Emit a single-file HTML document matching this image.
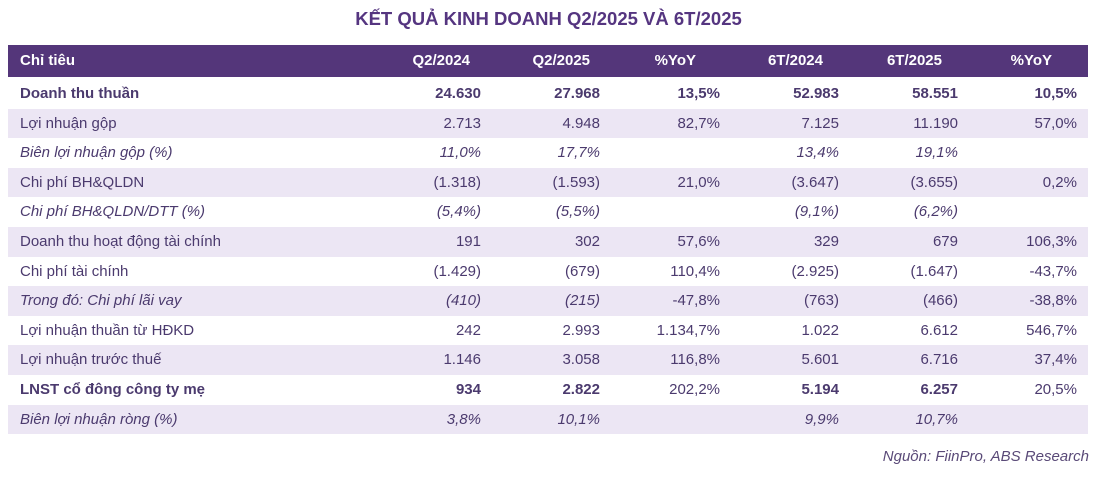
<!DOCTYPE html>
<html><head><meta charset="utf-8"><style>
body{margin:0;width:1097px;height:477px;background:#fff;font-family:"Liberation Sans","DejaVu Sans",sans-serif;color:#4b3a6e;position:relative;overflow:hidden}
.t{position:absolute;top:8px;left:0;width:1097px;text-align:center;font-weight:bold;font-size:18.5px;color:#553580}
.h{position:absolute;left:8px;width:1080px;top:45px;height:32px;background:#54367a;color:#fff;font-weight:bold;font-size:15px}
.r{position:absolute;left:8px;width:1080px;height:29.6px;font-size:15px}
.r.a{background:#ece6f4}
span{position:absolute;line-height:29.6px;white-space:nowrap}
.h span{line-height:32px}
.l{left:12px}
.b{font-weight:bold}.i{font-style:italic}
.src{position:absolute;right:8px;top:448px;font-style:italic;font-size:15px;color:#5a4a78}
</style></head><body>
<div class="t">KẾT QUẢ KINH DOANH Q2/2025 VÀ 6T/2025</div>
<div class="h"><span class="l">Chỉ tiêu</span><span style="right:618px">Q2/2024</span><span style="right:498px">Q2/2025</span><span style="right:392px">%YoY</span><span style="right:265px">6T/2024</span><span style="right:146px">6T/2025</span><span style="right:36px">%YoY</span></div>
<div id="rows"></div>
<div class="src">Nguồn: FiinPro, ABS Research</div>
<script>
var d=[
["Doanh thu thuần","24.630","27.968","13,5%","52.983","58.551","10,5%","b"],
["Lợi nhuận gộp","2.713","4.948","82,7%","7.125","11.190","57,0%",""],
["Biên lợi nhuận gộp (%)","11,0%","17,7%","","13,4%","19,1%","","i"],
["Chi phí BH&QLDN","(1.318)","(1.593)","21,0%","(3.647)","(3.655)","0,2%",""],
["Chi phí BH&QLDN/DTT (%)","(5,4%)","(5,5%)","","(9,1%)","(6,2%)","","i"],
["Doanh thu hoạt động tài chính","191","302","57,6%","329","679","106,3%",""],
["Chi phí tài chính","(1.429)","(679)","110,4%","(2.925)","(1.647)","-43,7%",""],
["Trong đó: Chi phí lãi vay","(410)","(215)","-47,8%","(763)","(466)","-38,8%","i2"],
["Lợi nhuận thuần từ HĐKD","242","2.993","1.134,7%","1.022","6.612","546,7%",""],
["Lợi nhuận trước thuế","1.146","3.058","116,8%","5.601","6.716","37,4%",""],
["LNST cổ đông công ty mẹ","934","2.822","202,2%","5.194","6.257","20,5%","bl"],
["Biên lợi nhuận ròng (%)","3,8%","10,1%","","9,9%","10,7%","","i"]];
var R=[607,488,368,249,130,11],h="";
d.forEach(function(r,k){
var c=r[7],top=79+k*29.6;
h+='<div class="r'+(k%2?' a':'')+'" style="top:'+top+'px">';
var lc=c=="b"||c=="bl"?"b":(c=="i"||c=="i2"?"i":"");
h+='<span class="l '+lc+'">'+r[0]+'</span>';
for(var j=1;j<7;j++){var cl="";
if(c=="b")cl="b";else if(c=="i")cl="i";else if(c=="i2")cl=(j<3?"i":"");else if(c=="bl")cl=(j==3||j==6?"":"b");
h+='<span class="'+cl+'" style="right:'+R[j-1]+'px">'+r[j]+'</span>';}
h+='</div>';});
document.getElementById("rows").innerHTML=h;
</script>
</body></html>
